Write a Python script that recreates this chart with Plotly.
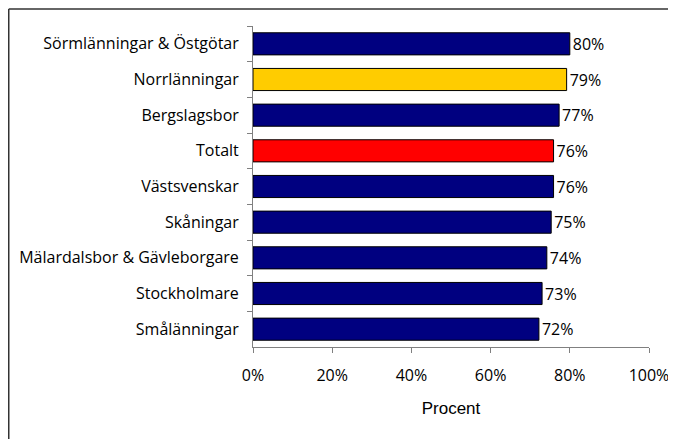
import plotly.graph_objects as go

categories = ["Sörmlänningar & Östgötar", "Norrlänningar", "Bergslagsbor", "Totalt",
              "Västsvenskar", "Skåningar", "Mälardalsbor & Gävleborgare",
              "Stockholmare", "Smålänningar"]
values = [80.0, 79.2, 77.3, 75.9, 75.9, 75.3, 74.2, 73.0, 72.2]
labels = ["80%", "79%", "77%", "76%", "76%", "75%", "74%", "73%", "72%"]
colors = ["#000080", "#FFCC00", "#000080", "#FF0000", "#000080",
          "#000080", "#000080", "#000080", "#000080"]
x_ticks = [0, 20, 40, 60, 80, 100]
x_ticklabels = ["0%", "20%", "40%", "60%", "80%", "100%"]

W, H = 676, 439
L, R, T, B = 245, 35, 18, 100
pw, ph = W - L - R, H - T - B

fig = go.Figure(go.Bar(
    y=categories, x=values, orientation="h",
    marker=dict(color=colors, line=dict(color="#000000", width=1)),
    text=labels, textposition="outside", cliponaxis=False,
    textfont=dict(family="Open Sans", size=16, color="#000000"),
    width=0.62,
))

xl = (0.75 - L) / pw
yt = 1 + (T - 1) / ph
fig.update_layout(
    width=W, height=H,
    margin=dict(l=L, r=R, t=T, b=B, pad=0),
    paper_bgcolor="white", plot_bgcolor="white",
    showlegend=False,
    font=dict(family="Open Sans", size=16, color="#000000"),
    xaxis=dict(range=[0, 100], tickvals=x_ticks, ticktext=x_ticklabels,
               showgrid=False, zeroline=False, showline=True,
               linecolor="#808080", linewidth=1, ticks="outside", ticklen=5,
               tickcolor="#808080", ticklabelstandoff=9, ticklabeloverflow="allow",
               title=dict(text="Procent", font=dict(family="Liberation Sans", size=17), standoff=16)),
    yaxis=dict(categoryorder="array", categoryarray=categories, autorange="reversed",
               showgrid=False, zeroline=False, showline=True,
               linecolor="#808080", linewidth=1, ticks="outside", ticklen=5,
               tickcolor="#808080", tickson="boundaries", ticklabelstandoff=10),
    shapes=[
        dict(type="line", xref="paper", yref="paper", x0=xl, x1=xl, y0=-0.5, y1=yt,
             line=dict(color="#333333", width=1.5), layer="below"),
        dict(type="line", xref="paper", yref="paper", x0=xl, x1=1.2, y0=yt, y1=yt,
             line=dict(color="#333333", width=1.5), layer="below"),
    ],
)

fig.write_html("out.html")
